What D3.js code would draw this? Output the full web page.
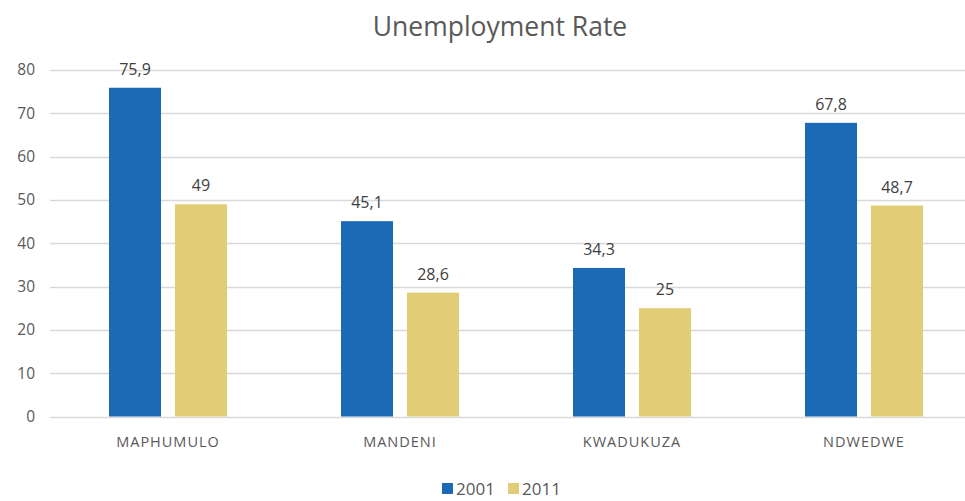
<!DOCTYPE html>
<html>
<head>
<meta charset="utf-8">
<script src="https://cdn.jsdelivr.net/npm/d3@7"></script>
<style>
  html, body { margin: 0; padding: 0; background: #fff; }
  svg { display: block; font-family: "Open Sans", "Liberation Sans", sans-serif; }
</style>
</head>
<body>
<svg id="chart" width="965" height="501"></svg>
<script>
// Unemployment rate by municipality, 2001 vs 2011
const municipalities = ["MAPHUMULO", "MANDENI", "KWADUKUZA", "NDWEDWE"];
const years = ["2001", "2011"];
const rate2001 = [75.9, 45.1, 34.3, 67.8];
const rate2011 = [49, 28.6, 25, 48.7];
const yTicks = [0, 10, 20, 30, 40, 50, 60, 70, 80];
const seriesColors = ["#1b6ab6", "#e0cd75"];

const seriesValues = [rate2001, rate2011];
const rows = municipalities.map((m, i) => ({
  name: m,
  values: years.map((yr, s) => ({ year: yr, value: seriesValues[s][i] }))
}));

const svg = d3.select("#chart");
const width = 965, height = 501;

const plot = { left: 52, right: 980, top: 70, bottom: 416.5 };

const x = d3.scaleBand()
  .domain(municipalities)
  .range([plot.left, plot.right])
  .paddingInner(0)
  .paddingOuter(0);

const groupInner = 118;
const xs = d3.scaleBand()
  .domain(years)
  .range([0, groupInner])
  .paddingInner(0.212);

const y = d3.scaleLinear()
  .domain([0, 80])
  .range([plot.bottom, plot.top]);

// Title
svg.append("text")
  .attr("x", 500)
  .attr("y", 36)
  .attr("text-anchor", "middle")
  .attr("font-size", 26.5)
  .attr("fill", "#595959")
  .text("Unemployment Rate");

// Horizontal gridlines
svg.append("g")
  .selectAll("line")
  .data(yTicks)
  .join("line")
  .attr("x1", 50)
  .attr("x2", width)
  .attr("y1", d => Math.round(y(d)) + 0.5)
  .attr("y2", d => Math.round(y(d)) + 0.5)
  .attr("stroke", "#d9d9d9")
  .attr("stroke-width", 1.5);

// Y axis labels
const yAxis = d3.axisLeft(y).tickValues(yTicks).tickSize(0).tickPadding(0);
const yg = svg.append("g")
  .attr("transform", "translate(35,0)")
  .call(yAxis);
yg.select(".domain").remove();
yg.selectAll("text")
  .attr("font-size", 15.5)
  .attr("fill", "#595959")
  .attr("font-family", "\"Open Sans\", sans-serif");

// Bars
const groups = svg.append("g")
  .selectAll("g")
  .data(rows)
  .join("g")
  .attr("transform", d => `translate(${x(d.name) + (x.bandwidth() - groupInner) / 2},0)`);

groups.selectAll("rect")
  .data(d => d.values)
  .join("rect")
  .attr("x", d => xs(d.year))
  .attr("width", xs.bandwidth())
  .attr("y", d => y(d.value))
  .attr("height", d => y(0) - y(d.value))
  .attr("fill", (d, i) => seriesColors[i]);

// Value labels
groups.selectAll("text.val")
  .data(d => d.values)
  .join("text")
  .attr("class", "val")
  .attr("x", d => xs(d.year) + xs.bandwidth() / 2)
  .attr("y", d => y(d.value) - 13)
  .attr("text-anchor", "middle")
  .attr("font-size", 16)
  .attr("fill", "#404040")
  .text(d => String(d.value).replace(".", ","));

// Category labels
const xAxis = d3.axisBottom(x).tickSize(0).tickPadding(0);
const xg = svg.append("g")
  .attr("transform", `translate(0,${plot.bottom + 30})`)
  .call(xAxis);
xg.select(".domain").remove();
xg.selectAll("text")
  .attr("dy", 0)
  .attr("font-size", 14.5)
  .attr("letter-spacing", "1px")
  .attr("fill", "#595959")
  .attr("font-family", "\"Open Sans\", sans-serif");

// Legend
const legend = svg.append("g").attr("transform", "translate(442,489)");
const legendItems = legend.selectAll("g")
  .data(years)
  .join("g")
  .attr("transform", (d, i) => `translate(${i * 66},0)`);
legendItems.append("rect")
  .attr("x", 0)
  .attr("y", -6)
  .attr("width", 11)
  .attr("height", 11)
  .attr("fill", (d, i) => seriesColors[i]);
legendItems.append("text")
  .attr("x", 14)
  .attr("y", 6)
  .attr("font-size", 17)
  .attr("fill", "#595959")
  .text(d => d);
</script>
</body>
</html>
